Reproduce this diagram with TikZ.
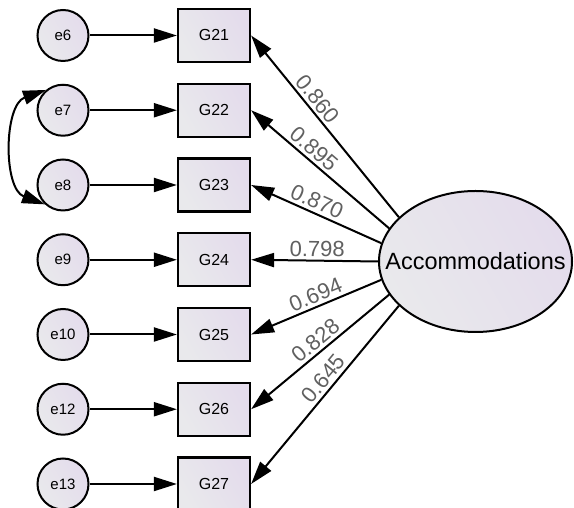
\documentclass[tikz,border=0pt]{standalone}
\usepackage{fontspec}
\setmainfont{Liberation Sans}
\usetikzlibrary{arrows.meta,shapes.geometric}

\definecolor{fillA}{RGB}{233,233,236}
\definecolor{fillB}{RGB}{228,220,236}
\definecolor{labelgray}{RGB}{96,96,96}

\tikzset{
  shapefill/.style={left color=fillA, right color=fillB, shading angle=120},
  errnode/.style={circle, draw, line width=2pt, shapefill, minimum size=51pt,
                  inner sep=0pt, font=\fontsize{15}{15}\selectfont},
  obsnode/.style={rectangle, draw, line width=2.2pt, shapefill, minimum width=72pt,
                  minimum height=53pt, inner sep=0pt, font=\fontsize{16}{16}\selectfont},
  latnode/.style={ellipse, draw, line width=2pt, shapefill, minimum width=193pt,
                  minimum height=141pt, inner xsep=-30pt, inner ysep=0pt,
                  font=\fontsize{23.5}{23.5}\selectfont},
  path/.style={line width=2pt, -{Triangle[length=23pt,width=14pt]}},
  covpath/.style={line width=2pt, {Triangle[length=23pt,width=14pt]}-{Triangle[length=23pt,width=14pt]}},
  loading/.style={sloped, above, inner sep=3pt, text=labelgray,
                  font=\fontsize{22}{22}\selectfont}
}

\begin{document}
\begin{tikzpicture}[x=1pt,y=1pt]
  \useasboundingbox (0,0) rectangle (574,508);

  % indicators with their error terms
  \foreach \n/\e/\k in {21/6/0, 22/7/1, 23/8/2, 24/9/3, 25/10/4, 26/12/5, 27/13/6} {
    \node[obsnode] (G\n) at (214, 472.5-74.75*\k) {G\n};
    \node[errnode] (e\e) at (63, 472.5-74.75*\k) {e\e};
    \draw[path] (e\e) -- (G\n);
  }

  % latent factor
  \node[latnode] (acc) at (475.5, 246.5) {Accommodations};

  % standardized loadings
  \draw[path] (acc.150.5) -- node[loading, pos=0.61] {0.860} (G21.east);
  \draw[path] (acc.159)   -- node[loading, pos=0.60] {0.895} (G22.east);
  \draw[path] (acc.169)   -- node[loading, pos=0.53] {0.870} (G23.east);
  \draw[path] (acc.180)   -- node[loading, pos=0.48] {0.798} (G24.east);
  \draw[path] (acc.191)   -- node[loading, pos=0.47] {0.694} (G25.east);
  \draw[path] (acc.201)   -- node[loading, pos=0.48] {0.828} (G26.east);
  \draw[path] (acc.210)   -- node[loading, pos=0.45] {0.645} (G27.east);

  % error covariance
  \draw[covpath] (e7.130) to[bend right=70] (e8.227);
\end{tikzpicture}
\end{document}
